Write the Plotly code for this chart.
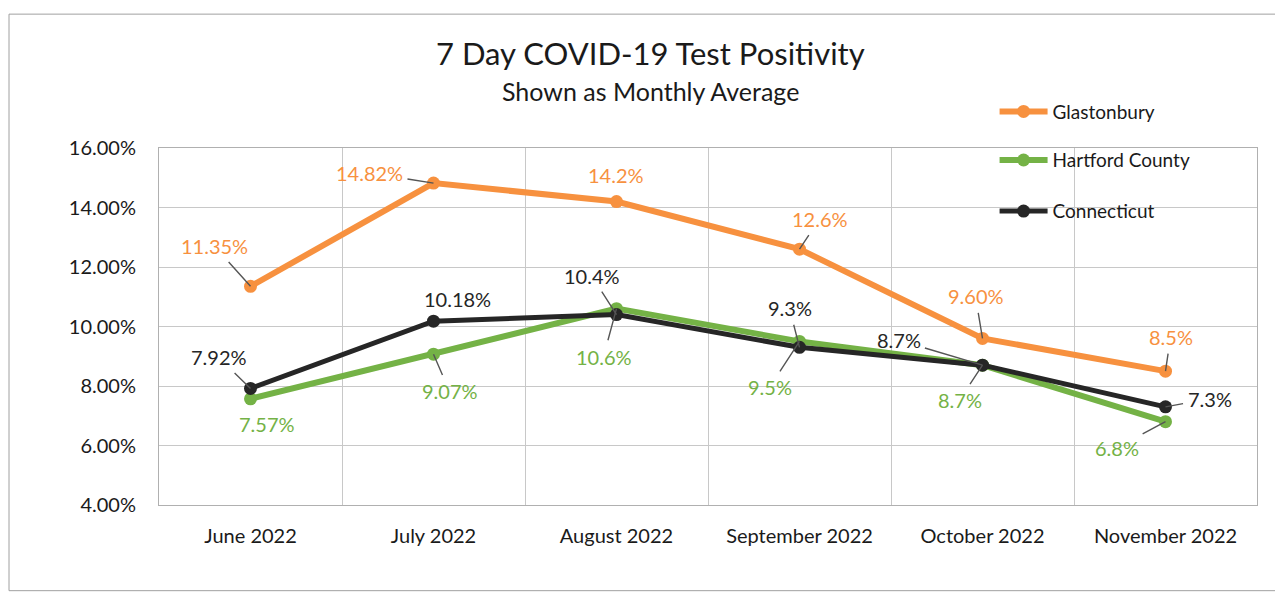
import plotly.graph_objects as go

months = ["June 2022", "July 2022", "August 2022", "September 2022", "October 2022", "November 2022"]

glastonbury = [11.35, 14.82, 14.2, 12.6, 9.60, 8.5]
hartford = [7.57, 9.07, 10.6, 9.5, 8.7, 6.8]
connecticut = [7.92, 10.18, 10.4, 9.3, 8.7, 7.3]

glastonbury_labels = ["11.35%", "14.82%", "14.2%", "12.6%", "9.60%", "8.5%"]
hartford_labels = ["7.57%", "9.07%", "10.6%", "9.5%", "8.7%", "6.8%"]
connecticut_labels = ["7.92%", "10.18%", "10.4%", "9.3%", "8.7%", "7.3%"]

y_ticks = [4, 6, 8, 10, 12, 14, 16]
y_tick_labels = ["4.00%", "6.00%", "8.00%", "10.00%", "12.00%", "14.00%", "16.00%"]

FONT = "Lato"
ORANGE = "#F7913F"
GREEN = "#74B246"
BLACK = "#262626"
LEADER = "#555555"
TEXT = "#1a1a1a"

# label placement: (dx, dy in px, leader line?)  dy positive = downward
glas_pos = [(-36, -40, True), (-64, -10, True), (-1, -27, False), (20, -30, True), (-7, -42, True), (5, -34, True)]
hart_pos = [(16, 25, False), (16, 37, True), (-13, 48, True), (-30, 46, True), (-23, 35, True), (-49, 26, True)]
conn_pos = [(-32, -31, True), (24, -22, False), (-25, -39, True), (-10, -39, True), (-84, -25, True), (44, -8, True)]

fig = go.Figure()

series = [
    ("Glastonbury", glastonbury, glastonbury_labels, ORANGE, glas_pos, "legend", 6, 13),
    ("Hartford County", hartford, hartford_labels, GREEN, hart_pos, "legend2", 6, 13),
    ("Connecticut", connecticut, connecticut_labels, BLACK, conn_pos, "legend3", 5, 13),
]

for name, vals, labels, color, pos, leg, lw, ms in series:
    fig.add_trace(go.Scatter(
        x=months, y=vals, name=name, mode="lines+markers",
        line=dict(color=color, width=lw),
        marker=dict(color=color, size=ms),
        legend=leg, hoverinfo="skip", showlegend=True,
    ))

annotations = []
for name, vals, labels, color, pos, leg, lw, ms in series:
    for m, v, lab, (dx, dy, arrow) in zip(months, vals, labels, pos):
        if arrow:
            annotations.append(dict(
                x=m, y=v, xref="x", yref="y", text=lab, showarrow=True,
                ax=dx, ay=dy, arrowhead=0, arrowwidth=1.4, arrowcolor=LEADER,
                standoff=0, startstandoff=3,
                font=dict(family=FONT, size=20, color=color),
            ))
        else:
            annotations.append(dict(
                x=m, y=v, xref="x", yref="y", text=lab, showarrow=False,
                xshift=dx, yshift=-dy,
                font=dict(family=FONT, size=20, color=color),
            ))

annotations.append(dict(
    x=0.448, y=1.267, xref="paper", yref="paper", text="7 Day COVID-19 Test Positivity",
    showarrow=False, xanchor="center", yanchor="middle",
    font=dict(family=FONT, size=31, color=TEXT),
))
annotations.append(dict(
    x=0.448, y=1.160, xref="paper", yref="paper", text="Shown as Monthly Average",
    showarrow=False, xanchor="center", yanchor="middle",
    font=dict(family=FONT, size=25, color=TEXT),
))

legend_common = dict(
    bgcolor="rgba(0,0,0,0)", borderwidth=0, xanchor="left", yanchor="middle",
    font=dict(family=FONT, size=19, color=TEXT), itemwidth=48,
)

# page body has an 8px margin; figure is sized/offset so the plot area lands at
# x 159..1257, y 148..505 in the 1283x595 window
fig.update_layout(
    width=1275, height=587,
    margin=dict(l=151, r=26, t=140, b=90),
    paper_bgcolor="white", plot_bgcolor="white",
    showlegend=True,
    font=dict(family=FONT, size=19, color=TEXT),
    annotations=annotations,
    legend=dict(x=0.761, y=1.102, **legend_common),
    legend2=dict(x=0.761, y=0.966, **legend_common),
    legend3=dict(x=0.761, y=0.823, **legend_common),
    shapes=[dict(
        type="rect", xref="paper", yref="paper",
        x0=-0.1366, x1=1.05, y0=-0.24, y1=1.375,
        line=dict(color="#a0a0a0", width=1), fillcolor="rgba(0,0,0,0)", layer="below",
    )],
)

fig.update_xaxes(
    type="category", range=[-0.5, 5.5], tickson="boundaries",
    showgrid=True, gridcolor="#c8c8c8", gridwidth=1,
    showline=True, linecolor="#b0b0b0", mirror=True,
    ticks="", ticklabelstandoff=13,
    tickfont=dict(family=FONT, size=20, color=TEXT),
    fixedrange=True,
)
fig.update_yaxes(
    range=[4, 16], tickvals=y_ticks, ticktext=y_tick_labels,
    showgrid=True, gridcolor="#c8c8c8", gridwidth=1,
    showline=True, linecolor="#b0b0b0", mirror=True, zeroline=False,
    ticks="", ticklabelstandoff=18,
    tickfont=dict(family=FONT, size=20, color=TEXT),
    fixedrange=True,
)

fig.write_html("out.html")
